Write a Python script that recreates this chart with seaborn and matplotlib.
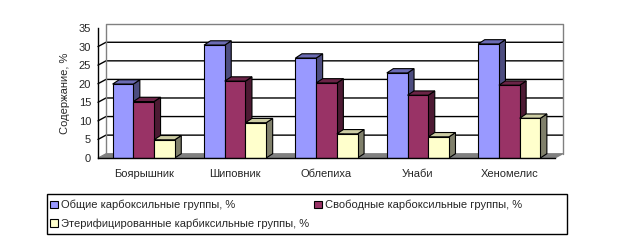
import matplotlib
matplotlib.use('Agg')
import matplotlib.pyplot as plt
from matplotlib.patches import Polygon, Patch, Rectangle
import numpy as np
import pandas as pd
import seaborn as sns

plants = ['Боярышник', 'Шиповник', 'Облепиха', 'Унаби', 'Хеномелис']
series_names = ['Общие карбоксильные группы, %',
                'Свободные карбоксильные группы, %',
                'Этерифицированные карбиксильные группы, %']
total_groups = [19.9, 30.4, 26.9, 22.9, 30.7]
free_groups = [15.2, 20.7, 20.2, 16.9, 19.6]
ester_groups = [4.9, 9.5, 6.5, 5.7, 10.7]
y_ticks = [0, 5, 10, 15, 20, 25, 30, 35]

front_colors = ['#9999FF', '#993366', '#FFFFCC']
top_colors = ['#6B6BB3', '#6B2447', '#CCCCA3']
side_colors = ['#4D4D80', '#4D1A33', '#80806B']

df = pd.DataFrame({
    'plant': plants * 3,
    'series': np.repeat(series_names, len(plants)),
    'value': total_groups + free_groups + ester_groups,
})

sns.set_style('white')
plt.rcParams['font.family'] = ['Liberation Sans', 'DejaVu Sans']

W, H = 617, 244
fig = plt.figure(figsize=(W / 100, H / 100), dpi=100)
ax_left, ax_bottom, ax_w, ax_h = 98, 86, 457, 130
ax = fig.add_axes([ax_left / W, ax_bottom / H, ax_w / W, ax_h / H])

sns.barplot(data=df, x='plant', y='value', hue='series', hue_order=series_names,
            palette=front_colors, width=0.68, saturation=1, edgecolor='black',
            linewidth=0.8, legend=False, ax=ax)

ax.set_xlim(-0.5, len(plants) - 0.5)
ax.set_ylim(0, 35)

# depth of the 3d look, pixels -> data units
ux = ax_w / len(plants)
uy = ax_h / 35
dx_bar, dy_bar = 6.5 / ux, 4.3 / uy
dx_wall, dy_wall = 8 / ux, 4.3 / uy
x0, x1 = -0.5, len(plants) - 0.5

# floor and back wall
ax.add_patch(Polygon([(x0, 0), (x0 + dx_wall, dy_wall), (x1 + dx_wall, dy_wall), (x1, 0)],
                     closed=True, facecolor='#808080', edgecolor='#808080', lw=0.8,
                     zorder=0.5, clip_on=False))
for v in y_ticks[1:-1]:
    ax.plot([x0, x0 + dx_wall, x1 + dx_wall], [v, v + dy_wall, v + dy_wall],
            color='black', lw=1, zorder=0.4, clip_on=False)
ax.plot([x0 + dx_wall, x0 + dx_wall, x1 + dx_wall, x1 + dx_wall],
        [dy_wall, 35 + dy_wall, 35 + dy_wall, dy_wall],
        color='#808080', lw=1, zorder=0.4, clip_on=False)

# 3d faces for each bar, drawn left to right
bars = list(ax.patches[:3 * len(plants)])
order = sorted(range(len(bars)), key=lambda i: bars[i].get_x())
for k, i in enumerate(order):
    b = bars[i]
    s = i // len(plants)
    x, w, h = b.get_x(), b.get_width(), b.get_height()
    z = 2 + k * 0.01
    side = Polygon([(x + w, 0), (x + w + dx_bar, dy_bar), (x + w + dx_bar, h + dy_bar), (x + w, h)],
                   closed=True, facecolor=side_colors[s], edgecolor='black', lw=0.8,
                   zorder=z, clip_on=False)
    top = Polygon([(x, h), (x + dx_bar, h + dy_bar), (x + w + dx_bar, h + dy_bar), (x + w, h)],
                  closed=True, facecolor=top_colors[s], edgecolor='black', lw=0.8,
                  zorder=z, clip_on=False)
    ax.add_patch(side)
    ax.add_patch(top)
    b.set_zorder(z + 0.005)

for sp in ['top', 'right']:
    ax.spines[sp].set_visible(False)
for sp in ['left', 'bottom']:
    ax.spines[sp].set_color('black')
    ax.spines[sp].set_linewidth(1)
    ax.spines[sp].set_zorder(3)

ax.set_yticks(y_ticks)
ax.set_xticks(range(len(plants)))
ax.set_xticks(np.arange(len(plants) + 1) - 0.5, minor=True)
ax.tick_params(axis='y', direction='out', length=4, width=1, color='black', labelsize=8, pad=1)
ax.tick_params(axis='x', which='major', length=0, labelsize=8, pad=8)
ax.tick_params(axis='x', which='minor', direction='out', length=4, width=1, color='black')
ax.set_xlabel('')
ax.set_ylabel('Содержание, %', fontsize=8, labelpad=6)
ax.grid(False)

# legend is filled column by column: first column gets series 0 and 2
handles = [Patch(facecolor=c, edgecolor='black', lw=0.8) for c in front_colors]
leg_order = [0, 2, 1]
fig.legend([handles[i] for i in leg_order], [series_names[i] for i in leg_order],
           ncol=2, loc='upper left',
           bbox_to_anchor=(50 / W, 1 - 200 / H), frameon=False, fontsize=8,
           handlelength=0.7, handleheight=0.7, handletextpad=0.3,
           columnspacing=0.45, labelspacing=0.68, borderpad=0, borderaxespad=0)
fig.add_artist(Rectangle((47 / W, 10 / H), 520 / W, 40 / H, transform=fig.transFigure,
                         fill=False, edgecolor='black', lw=1))

fig.savefig('out.png', dpi=100)
